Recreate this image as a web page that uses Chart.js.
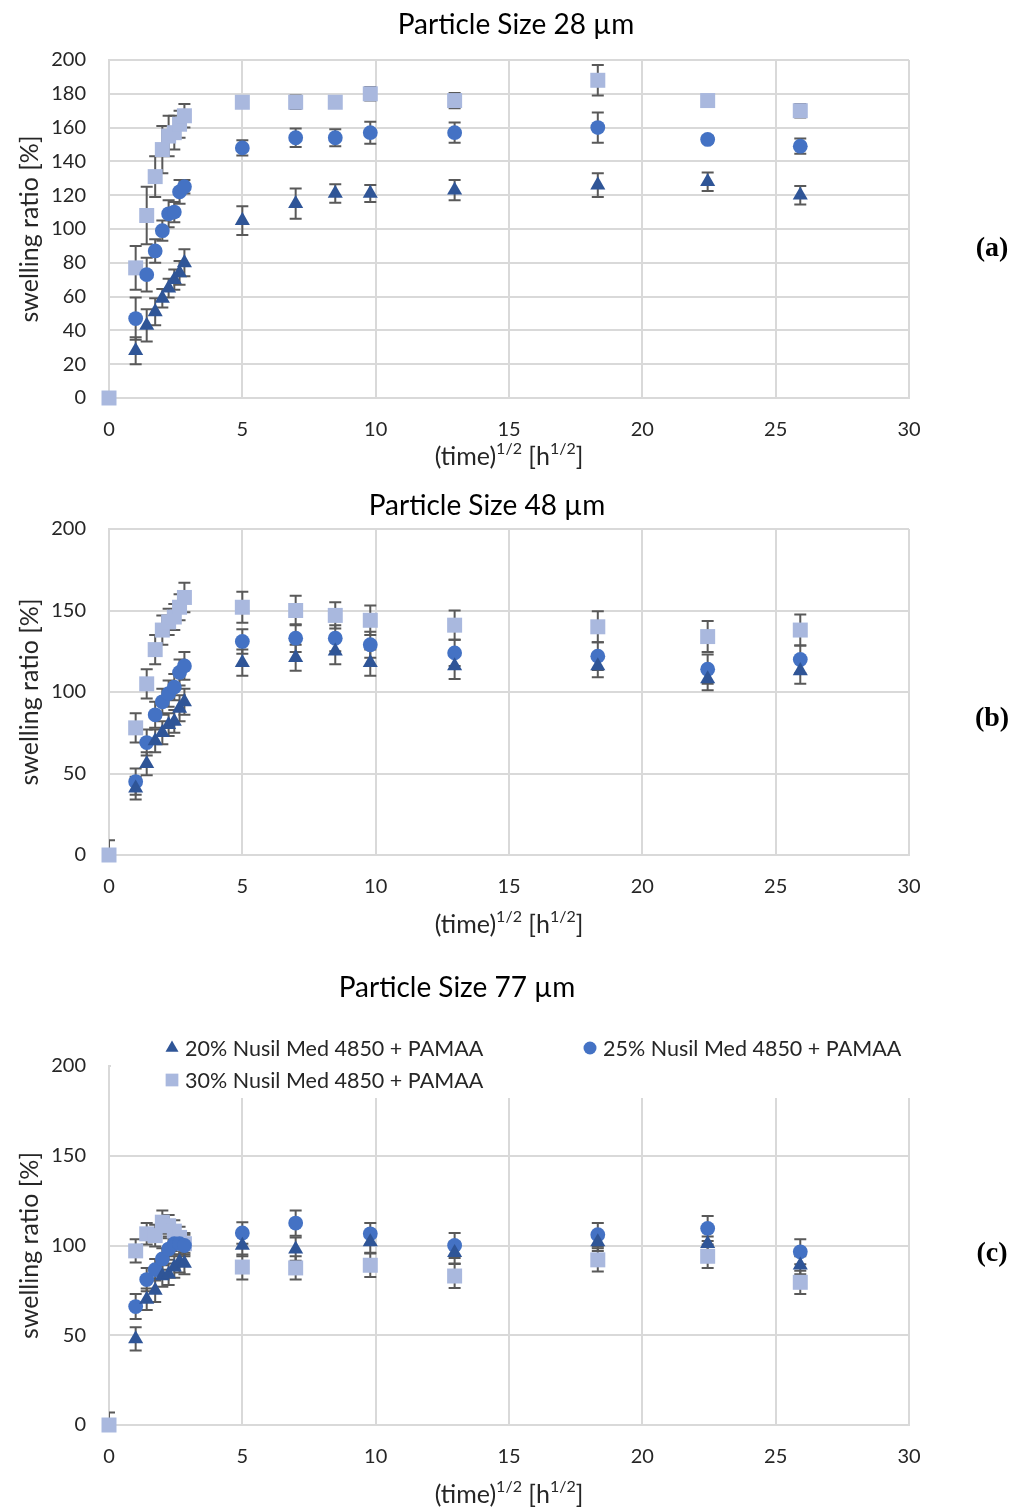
<!DOCTYPE html>
<html>
<head>
<meta charset="utf-8">
<script src="https://cdn.jsdelivr.net/npm/chart.js@4.4.1/dist/chart.umd.min.js"></script>
<style>
  html, body { margin: 0; padding: 0; background: #fff; }
  canvas { display: block; }
</style>
</head>
<body>
<canvas id="chartA" width="1024" height="480"></canvas>
<canvas id="chartB" width="1024" height="470"></canvas>
<canvas id="chartC" width="1024" height="561"></canvas>
<script>
// square root of swelling time [h^1/2] : 0, 1..8 h, 25, 49, 72, 96, 168, 336, 504, 672 h
const rootTimeAB = [0, 1, 1.414, 1.732, 2, 2.236, 2.449, 2.646, 2.828, 5, 7, 8.485, 9.798, 12.961, 18.330, 22.450, 25.923];
// the 77 µm set has no 72 h reading
const rootTimeC = [0, 1, 1.414, 1.732, 2, 2.236, 2.449, 2.646, 2.828, 5, 7, 9.798, 12.961, 18.330, 22.450, 25.923];

const seriesNames = ['20% Nusil Med 4850 + PAMAA', '25% Nusil Med 4850 + PAMAA', '30% Nusil Med 4850 + PAMAA'];
const seriesColors = ['#2F5597', '#4472C4', '#A9B8DE'];
const seriesShapes = ['triangle', 'circle', 'rect'];
const seriesRadius = [8.7, 7.4, 10.6];

// particle size 28 µm
const swell20_28 = [null, 28, 43, 51, 59, 65, 70, 74, 80, 105, 115, 121, 121, 123, 126, 128, 120];
const err20_28 = [0, 8, 9.5, 8, 5.5, 5.5, 6, 7, 8, 8.5, 9, 5.5, 5, 6, 7, 5.5, 5.5];
const swell25_28 = [null, 47, 73, 87, 99, 109, 110, 122, 125, 148, 154, 154, 157, 157, 160, 153, 149];
const err25_28 = [0, 12.5, 10, 7, 6, 8, 6, 7, 4, 4.5, 5.5, 5, 6.5, 6, 9, 2, 4.5];
const swell30_28 = [0, 77, 108, 131, 147, 155, 157, 162, 167, 175, 175, 175, 180, 176, 188, 176, 170];
const err30_28 = [0, 13, 17, 12, 14, 12, 10, 8, 7, 3, 4, 3, 4, 4.5, 9, 1, 4];

// particle size 48 µm
const swell20_48 = [null, 41, 56, 70, 75, 80, 82, 90, 94, 118, 121, 125, 118, 116, 116, 108, 113];
const err20_48 = [0, 7, 7, 7, 7, 7, 7, 8, 8, 8, 8, 8, 8, 8, 7, 7, 8];
const swell25_48 = [null, 45, 69, 86, 94, 99, 103, 112, 116, 131, 133, 133, 129, 124, 122, 114, 120];
const err25_48 = [0, 8, 8, 8, 8, 8, 8, 8, 8.5, 7.5, 8.5, 8, 8, 8, 8.5, 9, 8.5];
const swell30_48 = [0, 78, 105, 126, 138, 143, 146, 152, 158, 152, 150, 147, 144, 141, 140, 134, 138];
const err30_48 = [9, 9, 9, 9, 9, 8, 8, 8, 9, 9.5, 9, 8, 9, 9, 9.5, 9.5, 9.5];

// particle size 77 µm
const swell20_77 = [null, 48, 70, 75, 83, 84, 88, 91, 90, 100, 98, 102, 96, 102, 101, 89];
const err20_77 = [0, 6.5, 6, 6.5, 6, 6, 6, 6, 6, 6, 6.5, 6, 6, 5, 4, 5];
const swell25_77 = [null, 66, 81, 86.5, 92.5, 98, 101, 101, 100, 107, 112.5, 106.5, 100, 106, 109.5, 96.5];
const err25_77 = [0, 7, 6.5, 6, 6, 6, 6, 6, 6, 6, 7, 6, 7, 6.5, 7, 7];
const swell30_77 = [0, 97, 106.5, 105.5, 113, 111, 108, 104.5, 101, 88, 87.5, 89, 83, 92, 94, 79.5];
const err30_77 = [7, 6.5, 6, 6, 6.5, 6, 6, 6, 6, 7, 6.5, 6.5, 6.7, 6.5, 6.5, 6.5];

Chart.defaults.font.family = 'Lato, "Open Sans", sans-serif';
Chart.defaults.color = '#262626';

// vertical error bars, clipped to the plot area like the original
const errorBars = {
  id: 'errorBars',
  beforeDatasetsDraw(chart) {
    const { ctx, chartArea, scales: { x, y } } = chart;
    ctx.save();
    ctx.beginPath();
    ctx.rect(chartArea.left, chartArea.top, chartArea.right - chartArea.left, chartArea.bottom - chartArea.top);
    ctx.clip();
    ctx.strokeStyle = '#595959';
    ctx.lineWidth = 2;
    chart.data.datasets.forEach(ds => {
      ds.data.forEach((pt, i) => {
        const e = ds.errors[i];
        if (pt.y === null || !e) return;
        const px = x.getPixelForValue(pt.x);
        const top = y.getPixelForValue(pt.y + e);
        const bot = y.getPixelForValue(pt.y - e);
        ctx.beginPath();
        ctx.moveTo(px, top); ctx.lineTo(px, bot);
        ctx.moveTo(px - 6, top); ctx.lineTo(px + 6, top);
        ctx.moveTo(px - 6, bot); ctx.lineTo(px + 6, bot);
        ctx.stroke();
      });
    });
    ctx.restore();
  }
};

// panel title, x axis title with superscripts, and the (a)/(b)/(c) tag
const extras = {
  id: 'extras',
  afterDraw(chart, args, opts) {
    const { ctx, chartArea } = chart;
    ctx.save();
    ctx.textBaseline = 'middle';
    ctx.textAlign = 'center';
    ctx.fillStyle = '#000';
    ctx.font = '28px Lato';
    ctx.fillText(opts.title, opts.titleX, opts.titleY);

    const parts = [['(time)', false], ['1/2', true], [' [h', false], ['1/2', true], [']', false]];
    const big = '25px Lato', small = '16px Lato';
    let w = 0;
    parts.forEach(p => { ctx.font = p[1] ? small : big; w += ctx.measureText(p[0]).width; });
    let cx = (chartArea.left + chartArea.right) / 2 - w / 2;
    const cy = chartArea.bottom + opts.titleOffset;
    ctx.fillStyle = '#262626';
    ctx.textAlign = 'left';
    parts.forEach(p => {
      ctx.font = p[1] ? small : big;
      ctx.fillText(p[0], cx, p[1] ? cy - 8 : cy);
      cx += ctx.measureText(p[0]).width;
    });

    ctx.font = 'bold 28px "Liberation Serif", serif';
    ctx.fillStyle = '#000';
    ctx.textAlign = 'center';
    ctx.fillText(opts.tag, 992, opts.tagY);
    ctx.restore();
  }
};

// legend inside the top of the plot area (77 µm panel)
const insideLegend = {
  id: 'insideLegend',
  afterDraw(chart, args, opts) {
    if (!opts.show) return;
    const { ctx, chartArea } = chart;
    ctx.save();
    ctx.fillStyle = '#fff';
    ctx.fillRect(chartArea.left + 2, chartArea.top - 34, chartArea.right - chartArea.left, 66);
    ctx.font = '21.5px Lato';
    ctx.textBaseline = 'middle';
    ctx.textAlign = 'left';
    const colX = [63, 481], rowY = [-18, 14], symR = [7.5, 6.5, 9];
    chart.data.datasets.forEach((ds, i) => {
      const sx = chartArea.left + colX[i % 2];
      const sy = chartArea.top + rowY[Math.floor(i / 2)];
      ctx.fillStyle = ds.backgroundColor;
      Chart.helpers.drawPoint(ctx, { pointStyle: ds.pointStyle, radius: symR[i], rotation: 0, borderWidth: 0 }, sx, sy);
      ctx.fillStyle = '#262626';
      ctx.fillText(ds.label, sx + 13, sy + 1);
    });
    ctx.restore();
  }
};

function makeDatasets(xs, ys, errs) {
  return ys.map((vals, s) => ({
    label: seriesNames[s],
    data: xs.map((x, i) => ({ x: x, y: vals[i] })),
    errors: errs[s],
    pointStyle: seriesShapes[s],
    pointRadius: seriesRadius[s],
    pointHoverRadius: seriesRadius[s],
    backgroundColor: seriesColors[s],
    borderColor: seriesColors[s],
    pointBorderWidth: 0,
    showLine: false,
    clip: false
  }));
}

function makeChart(id, cfg) {
  return new Chart(document.getElementById(id), {
    type: 'scatter',
    data: { datasets: makeDatasets(cfg.xs, cfg.ys, cfg.errs) },
    plugins: [errorBars, extras, insideLegend],
    options: {
      responsive: false,
      animation: false,
      layout: { padding: { left: 0, right: 115, top: cfg.plotTop, bottom: 0 } },
      plugins: {
        legend: { display: false },
        tooltip: { enabled: false },
        title: { display: false },
        extras: {
          title: cfg.title, titleX: cfg.titleX, titleY: cfg.titleY,
          titleOffset: cfg.xTitleOffset, tag: cfg.tag, tagY: cfg.tagY
        },
        insideLegend: { show: cfg.legend }
      },
      scales: {
        x: {
          type: 'linear',
          min: 0, max: 30,
          ticks: { stepSize: 5, font: { size: 20 }, padding: 20 },
          grid: { color: '#D9D9D9', lineWidth: 2, drawTicks: false },
          border: { color: '#D9D9D9', width: 2 },
          afterFit: s => { s.height = cfg.xScaleHeight; }
        },
        y: {
          min: 0, max: 200,
          ticks: { stepSize: cfg.yStep, font: { size: 20 }, padding: 23 },
          grid: { color: '#D9D9D9', lineWidth: 2, drawTicks: false },
          border: { color: '#D9D9D9', width: 2 },
          title: { display: true, text: 'swelling ratio [%]', font: { size: 25 }, padding: { top: 15, bottom: 0 } },
          afterFit: s => { s.width = 109; }
        }
      }
    }
  });
}

makeChart('chartA', {
  title: 'Particle Size 28 µm', titleX: 516, titleY: 25, plotTop: 60,
  xs: rootTimeAB, ys: [swell20_28, swell25_28, swell30_28], errs: [err20_28, err25_28, err30_28],
  yStep: 20, xScaleHeight: 82, xTitleOffset: 59, tag: '(a)', tagY: 249, legend: false
});
makeChart('chartB', {
  title: 'Particle Size 48 µm', titleX: 487, titleY: 26, plotTop: 49,
  xs: rootTimeAB, ys: [swell20_48, swell25_48, swell30_48], errs: [err20_48, err25_48, err30_48],
  yStep: 50, xScaleHeight: 95, xTitleOffset: 70, tag: '(b)', tagY: 239, legend: false
});
makeChart('chartC', {
  title: 'Particle Size 77 µm', titleX: 457, titleY: 38, plotTop: 116,
  xs: rootTimeC, ys: [swell20_77, swell25_77, swell30_77], errs: [err20_77, err25_77, err30_77],
  yStep: 50, xScaleHeight: 86, xTitleOffset: 70, tag: '(c)', tagY: 304, legend: true
});
</script>
</body>
</html>
